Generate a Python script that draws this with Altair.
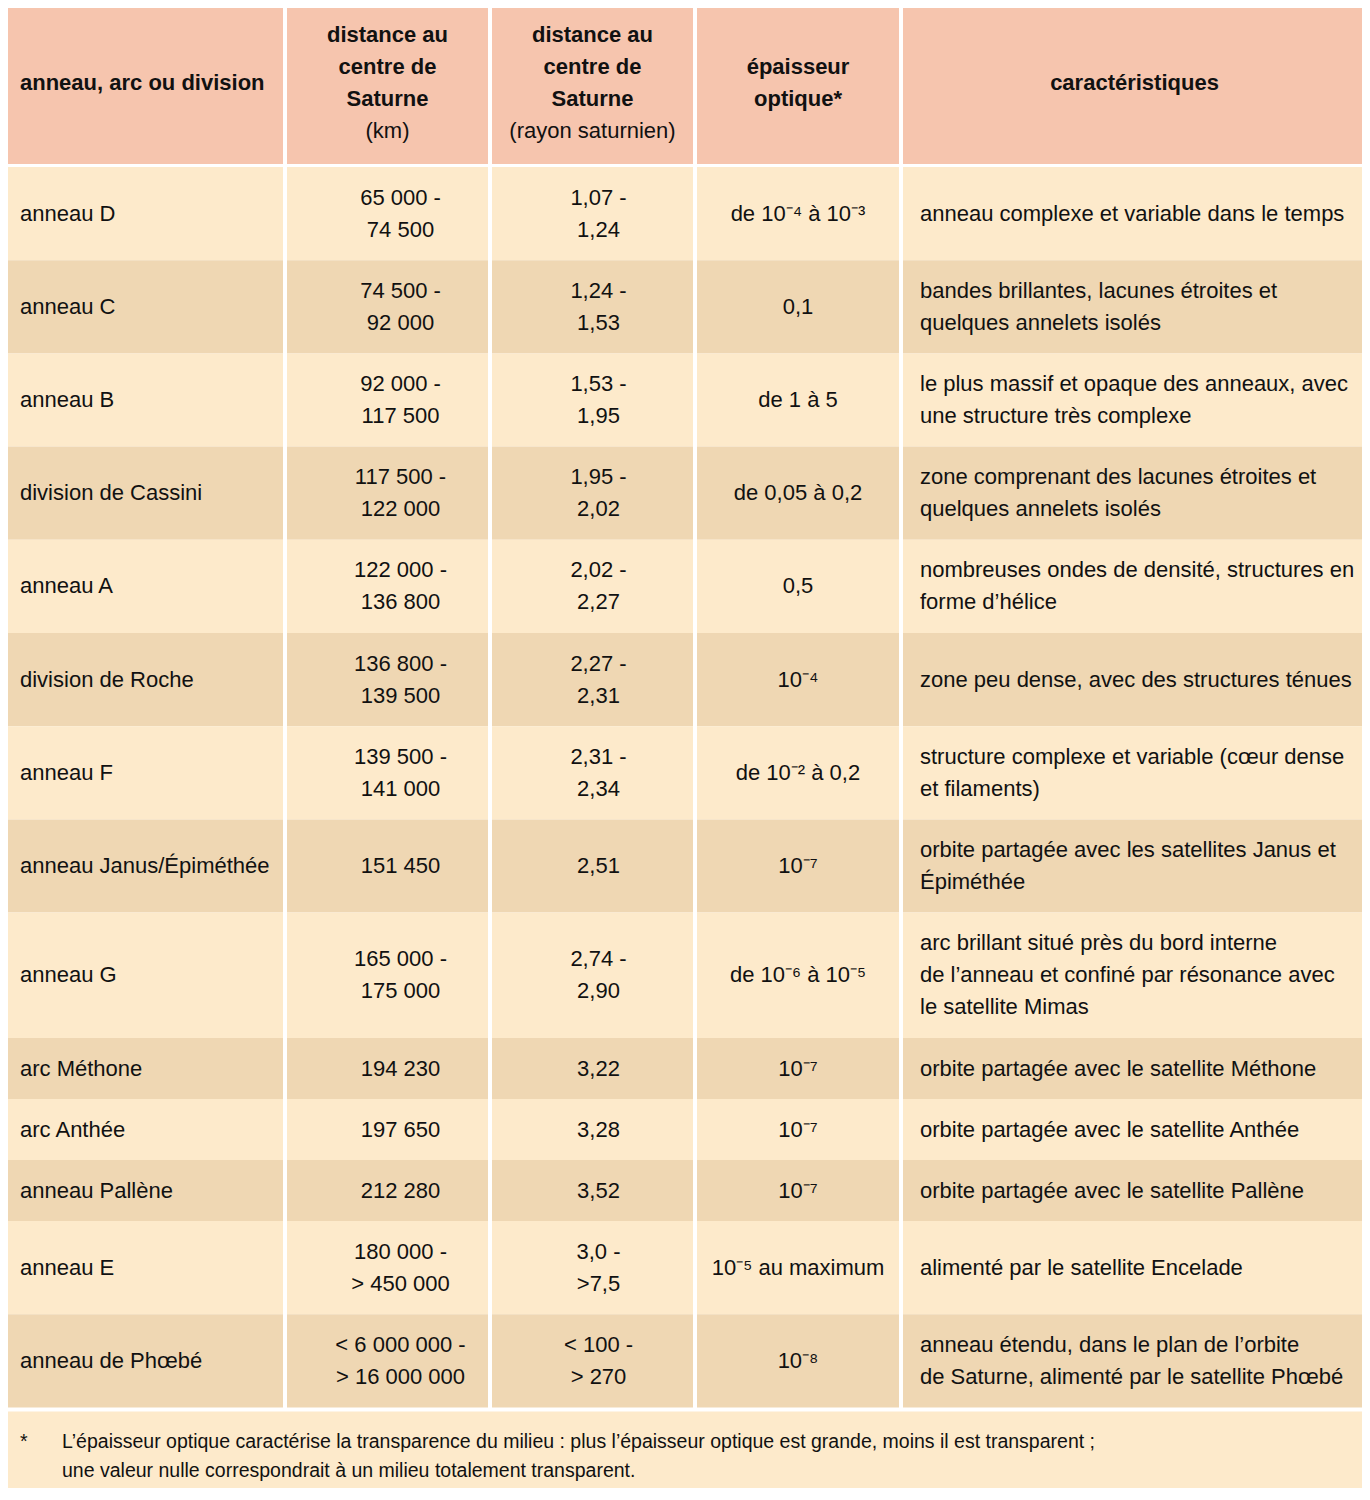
import altair as alt
import pandas as pd

# ---------------- data ----------------
names = ["anneau D", "anneau C", "anneau B", "division de Cassini", "anneau A",
         "division de Roche", "anneau F", "anneau Janus/Épiméthée", "anneau G",
         "arc Méthone", "arc Anthée", "anneau Pallène", "anneau E", "anneau de Phœbé"]
km = ["65 000 -\n74 500", "74 500 -\n92 000", "92 000 -\n117 500", "117 500 -\n122 000",
      "122 000 -\n136 800", "136 800 -\n139 500", "139 500 -\n141 000", "151 450",
      "165 000 -\n175 000", "194 230", "197 650", "212 280", "180 000 -\n> 450 000",
      "< 6 000 000 -\n> 16 000 000"]
rs = ["1,07 -\n1,24", "1,24 -\n1,53", "1,53 -\n1,95", "1,95 -\n2,02", "2,02 -\n2,27",
      "2,27 -\n2,31", "2,31 -\n2,34", "2,51", "2,74 -\n2,90", "3,22", "3,28", "3,52",
      "3,0 -\n>7,5", "< 100 -\n> 270"]
tau = ["de 10⁻⁴ à 10⁻³", "0,1", "de 1 à 5", "de 0,05 à 0,2", "0,5", "10⁻⁴",
       "de 10⁻²  à 0,2", "10⁻⁷", "de 10⁻⁶ à 10⁻⁵", "10⁻⁷", "10⁻⁷", "10⁻⁷",
       "10⁻⁵ au maximum", "10⁻⁸"]
carac = ["anneau complexe et variable dans le temps",
         "bandes brillantes, lacunes étroites et\nquelques annelets isolés",
         "le plus massif et opaque des anneaux, avec\nune structure très complexe",
         "zone comprenant des lacunes étroites et\nquelques annelets isolés",
         "nombreuses ondes de densité, structures en\nforme d’hélice",
         "zone peu dense, avec des structures ténues",
         "structure complexe et variable (cœur dense\net filaments)",
         "orbite partagée avec les satellites Janus et\nÉpiméthée",
         "arc brillant situé près du bord interne\nde l’anneau et confiné par résonance avec\nle satellite Mimas",
         "orbite partagée avec le satellite Méthone",
         "orbite partagée avec le satellite Anthée",
         "orbite partagée avec le satellite Pallène",
         "alimenté par le satellite Encelade",
         "anneau étendu, dans le plan de l’orbite\nde Saturne, alimenté par le satellite Phœbé"]
headers = [
    [("anneau, arc ou division", "bold")],
    [("distance au", "bold"), ("centre de", "bold"), ("Saturne", "bold"), ("(km)", "normal")],
    [("distance au", "bold"), ("centre de", "bold"), ("Saturne", "bold"), ("(rayon saturnien)", "normal")],
    [("épaisseur", "bold"), ("optique*", "bold")],
    [("caractéristiques", "bold")],
]
footnote_mark = "*"
footnote = ("L’épaisseur optique caractérise la transparence du milieu : plus l’épaisseur optique est grande, moins il est transparent ;\n"
            "une valeur nulle correspondrait à un milieu totalement transparent.")

# ---------------- layout ----------------
HEADER_C = "#F6C5AE"
LIGHT = "#FDEACB"
DARK = "#EFD7B3"
col_edges = [0, 285, 490, 695, 901, 1370]
gap = 4
line_h = 32
foot_lh = 29
header_bottom = 164
rows_top = 167
x_anchor = [("left", 20), ("center", 13), ("center", 6), ("center", 0), ("left", 17)]
head_anchor = [("left", 20), ("center", 0), ("center", 0), ("center", 0), ("center", -2)]


def cell_x(i):
    x0 = col_edges[i] + (gap / 2 if i > 0 else 0)
    x1 = col_edges[i + 1] - (gap / 2 if i < 4 else 0)
    return x0, x1


def nlines(s):
    return s.count("\n") + 1


rects = []
texts = []
# header
for c in range(5):
    x0, x1 = cell_x(c)
    rects.append(dict(x=x0, x2=x1, y=0, y2=header_bottom, fill=HEADER_C))
    lines = headers[c]
    n = len(lines)
    hc = header_bottom / 2 + 1
    al, off = head_anchor[c]
    tx = x0 + off if al == "left" else (x0 + x1) / 2 + off
    for k, (t, w) in enumerate(lines):
        texts.append(dict(t=t, x=tx, y=hc + (k - (n - 1) / 2) * line_h, anchor=al, wt=w, kind="body"))

# body rows
y = rows_top
for r in range(len(names)):
    cells = [names[r], km[r], rs[r], tau[r], carac[r]]
    n = max(nlines(s) for s in cells)
    h = 28.8 + 32.2 * n
    fill = LIGHT if r % 2 == 0 else DARK
    for c in range(5):
        x0, x1 = cell_x(c)
        rects.append(dict(x=x0, x2=x1, y=y, y2=y + h, fill=fill))
        al, off = x_anchor[c]
        tx = x0 + off if al == "left" else (x0 + x1) / 2 + off
        ty = y + h / 2 - (nlines(cells[c]) - 1) / 2 * line_h
        texts.append(dict(t=cells[c], x=tx, y=ty, anchor=al, wt="normal", kind="body"))
    y += h

# footnote
foot_top = y + 4
rects.append(dict(x=0, x2=1370, y=foot_top, y2=1500, fill=LIGHT))
fc = foot_top + 45
fy = fc - (nlines(footnote) - 1) / 2 * foot_lh
texts.append(dict(t=footnote_mark, x=20, y=fy, anchor="left", wt="normal", kind="foot"))
texts.append(dict(t=footnote, x=62, y=fy, anchor="left", wt="normal", kind="foot"))

rect_df = pd.DataFrame(rects)
text_df = pd.DataFrame(texts)

W, H = 1354, 1480
xs = alt.Scale(domain=[8, 8 + W], nice=False, zero=False)
ys = alt.Scale(domain=[8, 8 + H], nice=False, zero=False, reverse=True)
FONT = "Liberation Sans, Arial, sans-serif"

bg = alt.Chart(rect_df).mark_rect().encode(
    x=alt.X("x:Q", scale=xs, axis=None),
    x2="x2:Q",
    y=alt.Y("y:Q", scale=ys, axis=None),
    y2="y2:Q",
    color=alt.Color("fill:N", scale=None),
)

layers = [bg]
for kind, size, lh in [("body", 22, line_h), ("foot", 19.5, foot_lh)]:
    for al in ["left", "center"]:
        for w in ["normal", "bold"]:
            sub = text_df[(text_df["kind"] == kind) & (text_df["anchor"] == al) & (text_df["wt"] == w)]
            if len(sub) == 0:
                continue
            layers.append(
                alt.Chart(sub).mark_text(
                    align=al, baseline="middle", font=FONT, fontSize=size,
                    fontWeight=w, lineBreak="\n", lineHeight=lh, color="#111111",
                ).encode(
                    x=alt.X("x:Q", scale=xs, axis=None),
                    y=alt.Y("y:Q", scale=ys, axis=None),
                    text="t:N",
                )
            )

chart = alt.layer(*layers).properties(
    width=W, height=H, padding=0, autosize=alt.AutoSizeParams(type="none"),
    background="white",
).configure_view(stroke=None)

chart.save("out.html", embed_options={"renderer": "svg", "actions": False})
